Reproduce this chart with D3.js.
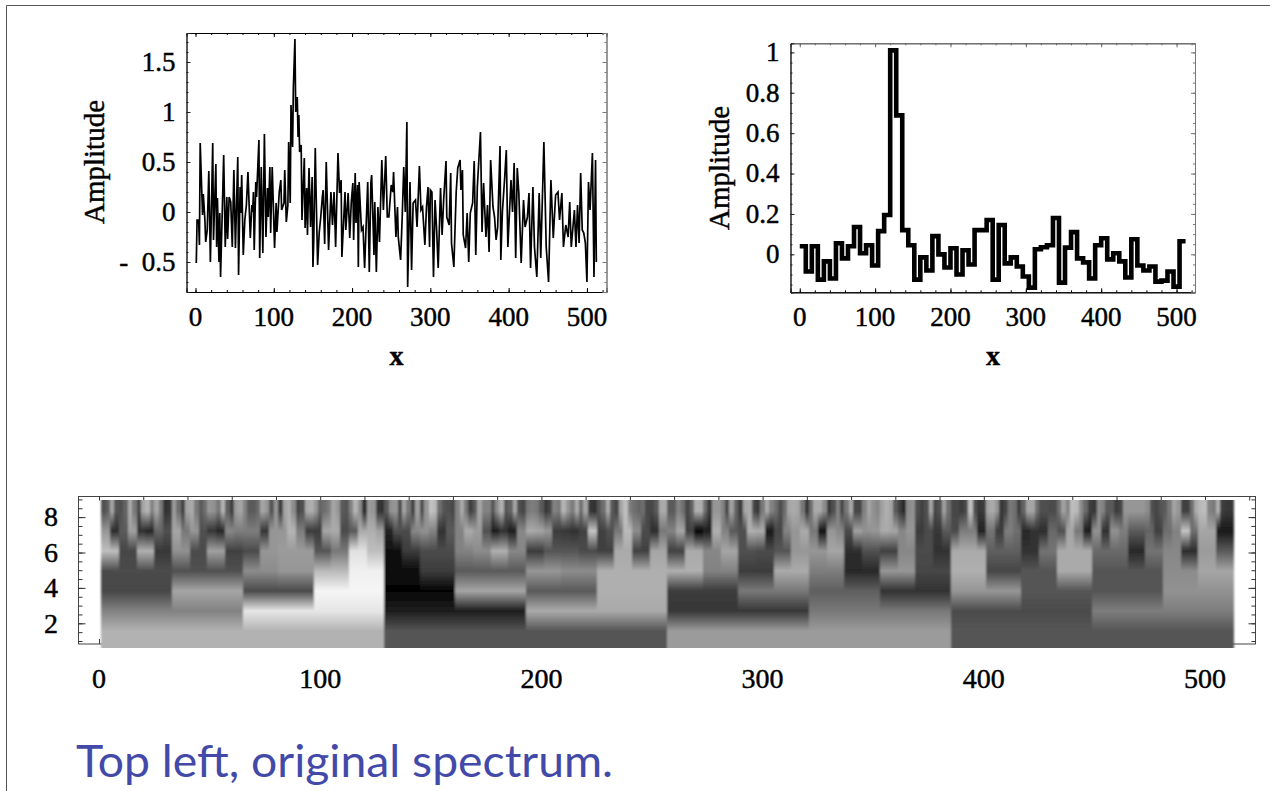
<!DOCTYPE html>
<html>
<head>
<meta charset="utf-8">
<script src="https://cdn.jsdelivr.net/npm/d3@7"></script>
<style>
  html, body { margin: 0; padding: 0; background: #fff; overflow: hidden; }
  svg { display: block; }
  text { font-family: 'Liberation Serif', serif; fill: #000; stroke: #000; stroke-width: 0.45px; }
</style>
</head>
<body>
<svg width="1270" height="791">
  <defs>
    <filter id="soft" x="-1%" y="-1%" width="102%" height="102%">
      <feGaussianBlur stdDeviation="1.2 0.4"></feGaussianBlur>
    </filter>
  </defs>
</svg>
<script>
// noisy spectrum, top left (sample number, amplitude)
var spectrumX = [1,2,4,5,6,9,10,12,13,15,17,19,22,23,26,27,28,30,31,32,34,36,38,40,41,43,45,47,49,51,54,55,57,58,59,61,63,65,67,70,72,73,74,75,77,78,81,82,84,86,88,90,92,93,95,96,98,101,103,104,107,109,110,113,114,116,118,119,121,122,124,125,127,128,130,131,132,133,135,136,139,140,142,143,145,147,149,150,151,153,154,156,158,160,162,163,165,167,170,173,175,177,179,182,184,186,187,191,192,195,197,199,201,202,204,205,207,208,209,212,214,216,220,222,224,225,228,229,231,233,235,238,240,243,245,247,250,252,253,256,258,259,262,264,266,268,270,271,274,276,278,281,283,286,288,290,293,295,297,299,300,302,304,306,308,310,313,315,317,320,321,324,326,327,330,333,335,338,339,341,342,345,347,349,351,354,356,358,360,364,366,368,371,373,375,377,380,382,384,386,389,390,392,395,397,399,403,405,407,409,411,413,416,419,421,424,426,428,431,433,436,439,441,444,445,448,451,454,457,460,463,465,468,470,473,476,478,480,484,486,488,490,492,494,496,498,500,502,504,507,509,511,512];
var spectrumY = [-.51,-.08,-.08,-.33,.69,-.03,.18,-.08,-.3,-.18,.41,-.5,.69,-.28,.48,-.35,.14,-.5,-.01,-.65,-.05,.57,-.35,.15,-.27,.15,.1,-.35,.42,-.36,.55,-.63,.25,-.01,.37,-.43,-.08,.07,.4,-.26,.07,0,.2,-.38,.3,.15,.72,-.46,.45,-.41,.78,-.25,.24,-.05,.45,-.21,.45,-.36,.09,-.2,.2,.32,.02,.09,.42,-.1,.07,.7,.09,1.07,.65,1.24,1.73,1,1.15,.75,.97,.6,.67,-.08,.54,-.16,.24,-.23,.44,-.15,.35,-.55,-.3,.64,.21,-.53,-.21,-.05,.15,.22,-.32,.5,-.38,.2,-.13,.2,-.35,.59,.19,.32,-.45,.2,-.18,.19,-.26,.1,.29,-.28,.39,-.11,.27,-.55,.3,-.18,-.15,-.56,.3,-.6,.29,.37,-.43,.1,-.6,.05,-.3,.52,.02,.56,-.05,-.05,.27,.2,.4,-.25,.05,-.25,-.48,-.06,.45,0,.9,-.75,.3,-.58,.09,.12,-.15,.46,.02,.05,-.33,.04,.25,-.35,.22,.2,-.65,.12,-.18,-.56,.24,-.23,.12,.51,-.05,-.13,.39,-.31,-.55,.2,.44,.52,.22,.42,-.23,-.36,-.01,-.5,-.01,.09,.51,-.43,.25,.8,-.2,.29,-.25,.07,-.4,.52,.05,-.05,-.28,-.15,.66,-.48,0,.35,.62,-.35,.32,0,.49,-.46,.44,.19,-.51,.12,-.15,-.05,.19,-.56,.25,-.35,-.65,.19,-.46,.4,.7,-.35,-.7,.32,-.26,.17,.2,-.08,.19,-.35,-.13,-.25,.1,-.35,.02,-.35,.07,-.31,.39,-.18,-.21,-.31,-.7,.3,.02,.59,-.65,.52,-.5];

// denoised spectrum, top right: 64 steps of 8 samples
var denoised = [.04,-.085,.04,-.125,-.035,-.12,.055,-.02,.04,.135,.005,.045,-.055,.115,.195,1.01,.688,.12,.045,-.125,-.015,-.08,.09,0,-.065,.03,-.1,.02,-.05,.12,.12,.17,-.125,.145,-.045,-.015,-.06,-.11,-.165,.025,.035,.045,.18,-.14,.033,.11,-.02,-.04,-.12,.045,.08,-.025,.005,-.035,-.115,.075,-.055,-.08,-.06,-.135,-.13,-.085,-.16,.065];

// wavelet scalogram, grey level of every cell, coarse row to fine row
var row4 = [178,85,155,85];
var row8 = [130,230,30,170,55,120,75,125];
var row16 = [70,165,75,245,5,165,90,175,60,120,95,50,150,85,85,145];
var row32 = [75,75,80,80,140,150,185,240,10,60,90,90,150,140,175,175,175,130,60,170,125,40,150,70,175,70,85,170,85,85,140,165];
var row64 = [190,70,175,55,145,75,160,65,75,150,155,155,85,120,225,190,15,60,75,75,130,140,175,135,60,85,85,75,65,170,65,165,65,170,135,165,80,75,85,150,150,165,45,80,65,135,75,50,170,170,95,95,50,115,170,170,105,105,40,115,135,45,155,90];
var row128 = [150,45,90,160,50,40,100,80,165,120,150,80,55,40,135,125,125,125,55,150,150,180,125,60,60,165,170,75,90,170,175,160,
  35,80,75,135,145,130,50,90,130,170,155,80,30,50,30,135,170,165,150,60,55,50,65,195,65,80,120,185,140,75,45,120,
  130,165,65,5,30,175,130,90,80,175,170,25,70,130,150,170,120,20,150,135,75,160,145,150,170,165,135,150,60,75,55,90,
  75,125,125,35,115,60,125,110,40,50,45,105,80,165,120,30,145,50,145,125,90,90,100,65,110,130,195,110,165,165,25,25];
var row256 = [80,95,165,85,80,100,170,120,70,165,180,130,165,120,50,55,155,110,65,165,170,120,90,110,150,145,120,180,95,60,155,165,130,90,90,105,165,150,85,150,65,165,175,140,70,80,170,175,150,100,110,125,165,150,90,85,130,180,140,45,155,150,55,50,
  90,145,150,75,165,120,65,160,75,150,195,185,110,85,80,70,130,170,120,65,90,165,130,130,85,140,175,85,100,165,80,70,120,125,120,90,55,70,130,120,180,150,125,170,110,165,55,50,85,110,170,90,70,165,190,125,110,100,110,70,70,90,170,170,
  90,90,130,110,70,100,175,175,110,60,150,150,130,70,160,100,60,165,170,70,55,120,170,130,110,80,110,165,170,165,120,50,110,170,170,140,55,80,130,70,120,170,70,70,130,165,145,135,160,175,165,90,60,40,140,145,80,65,80,165,70,80,160,110,
  70,70,60,75,190,80,55,60,165,170,150,55,70,120,110,60,100,165,165,110,80,80,75,75,110,160,130,190,185,140,105,60,55,140,130,90,90,60,70,150,150,150,150,150,140,80,70,85,90,120,165,150,65,65,110,170,185,190,130,120,175,60,55,55];
var rows = [row4, row8, row16, row32, row64, row128, row256];
var rowLevels = [1.62, 2.75, 3.88, 5.01, 6.14, 7.27, 8.4];

var topXTicks = [0,100,200,300,400,500];
var leftYTicks = [-0.5,0,0.5,1,1.5];
var rightYTicks = [0,0.2,0.4,0.6,0.8,1];
var heatYTicks = [2,4,6,8];

var svg = d3.select('svg');

function yLabel(d) {
  return d < 0 ? '-\u00a0\u00a0' + (-d) : String(d);
}

// slide border
svg.append('path')
  .attr('d', 'M6.5,791V5.5H1270')
  .attr('fill', 'none')
  .attr('stroke', '#555')
  .attr('stroke-width', 1);

// framed plot with inward ticks on all four sides
function frame(g, x, y, opts) {
  var x0 = x.range()[0], x1 = x.range()[1],
      y0 = y.range()[0], y1 = y.range()[1];

  [
    [d3.axisBottom(x), y0, opts.xMinor, 2, '#000'],
    [d3.axisBottom(x), y0, opts.xMajor, 4, '#000'],
    [d3.axisTop(x), y1, opts.xMinor, 2, opts.topColor],
    [d3.axisTop(x), y1, opts.xMajor, 4, opts.topColor]
  ].forEach(function(a) {
    g.append('g')
      .attr('transform', 'translate(0,' + a[1] + ')')
      .call(a[0].tickValues(a[2]).tickSize(-a[3]).tickFormat(''))
      .call(function(s) {
        s.selectAll('path').attr('stroke', a[4]);
        s.selectAll('line').attr('stroke', a[4]);
      });
  });
  [
    [d3.axisLeft(y), x0, opts.yMinor, 2, '#222'],
    [d3.axisLeft(y), x0, opts.yMajor, 4, '#222'],
    [d3.axisRight(y), x1, opts.yMinor, 2, '#777'],
    [d3.axisRight(y), x1, opts.yMajor, 4, '#777']
  ].forEach(function(a) {
    g.append('g')
      .attr('transform', 'translate(' + a[1] + ',0)')
      .call(a[0].tickValues(a[2]).tickSize(-a[3]).tickFormat(''))
      .call(function(s) {
        s.selectAll('path').attr('stroke', a[4]);
        s.selectAll('line').attr('stroke', a[4]);
      });
  });

  g.selectAll('.tick line').attr('stroke-width', 1);
  g.selectAll('.domain').attr('stroke-width', 1);

  g.selectAll('.xlab')
    .data(opts.xMajor)
    .enter().append('text')
    .attr('x', function(d) { return x(d); })
    .attr('y', 326)
    .attr('text-anchor', 'middle')
    .attr('font-size', 27)
    .text(function(d) { return d; });

  g.selectAll('.ylab')
    .data(opts.yMajor)
    .enter().append('text')
    .attr('x', x0 - 11)
    .attr('y', function(d) { return y(d); })
    .attr('dy', '0.33em')
    .attr('text-anchor', 'end')
    .attr('font-size', 27)
    .text(yLabel);

  g.append('text')
    .attr('x', opts.xTitleX)
    .attr('y', 365)
    .attr('text-anchor', 'middle')
    .attr('font-size', 28)
    .attr('font-weight', 'bold')
    .text('x');

  g.append('text')
    .attr('transform', 'translate(' + opts.yTitleX + ',' + opts.yTitleY + ') rotate(-90)')
    .attr('text-anchor', 'middle')
    .attr('font-size', 29)
    .text('Amplitude');
}

// top left
var xLeft = d3.scaleLinear().domain([-11.5, 525]).range([186.5, 606.5]);
var yLeft = d3.scaleLinear().domain([-0.8, 1.79]).range([292, 33]);
var leftPlot = svg.append('g');

leftPlot.append('path')
  .datum(d3.range(spectrumX.length))
  .attr('fill', 'none')
  .attr('stroke', '#000')
  .attr('stroke-width', 1.7)
  .attr('d', d3.line()
    .x(function(i) { return xLeft(spectrumX[i]); })
    .y(function(i) { return yLeft(spectrumY[i]); }));

frame(leftPlot, xLeft, yLeft, {
  xMajor: topXTicks,
  xMinor: d3.range(0, 521, 20),
  yMajor: leftYTicks,
  yMinor: d3.range(-7, 18).map(function(d) { return d / 10; }),
  topColor: '#000',
  xTitleX: 396.5,
  yTitleX: 104,
  yTitleY: 162
});

// top right
var xRight = d3.scaleLinear().domain([-12.3, 524.5]).range([790.5, 1195]);
var yRight = d3.scaleLinear().domain([-0.188, 1.045]).range([292.3, 43.3]);
var rightPlot = svg.append('g');

rightPlot.append('path')
  .datum(denoised.concat([denoised[denoised.length - 1]]))
  .attr('fill', 'none')
  .attr('stroke', '#000')
  .attr('stroke-width', 4.6)
  .attr('d', d3.line()
    .curve(d3.curveStepAfter)
    .x(function(d, i) { return xRight(i * 8); })
    .y(function(d) { return yRight(d); }));

frame(rightPlot, xRight, yRight, {
  xMajor: topXTicks,
  xMinor: d3.range(0, 521, 20),
  yMajor: rightYTicks,
  yMinor: d3.range(-3, 21).map(function(d) { return d / 20; }),
  topColor: '#666',
  xTitleX: 993,
  yTitleX: 729,
  yTitleY: 168
});

// scalogram
var xHeat = d3.scaleLinear().domain([0, 500]).range([99, 1205]);
var yHeat = d3.scaleLinear().domain([2, 8]).range([623.3, 517.1]);
var grey = d3.scaleLinear().domain([0, 255]).range(['#000', '#fff']);
var heat = svg.append('g');

heat.append('rect')
  .attr('x', 78.5)
  .attr('y', 496.5)
  .attr('width', 1177)
  .attr('height', 147.5)
  .attr('fill', 'none')
  .attr('stroke', '#444');

heat.append('g')
  .attr('transform', 'translate(0,496.5)')
  .call(d3.axisBottom(xHeat).tickValues(d3.range(0, 521, 20)).tickSize(4).tickFormat(''))
  .call(function(s) { s.select('.domain').remove(); s.selectAll('line').attr('stroke', '#333'); });

heat.append('g')
  .attr('transform', 'translate(0,644)')
  .call(d3.axisTop(xHeat).tickValues([0]).tickSize(5).tickFormat(''))
  .call(function(s) { s.select('.domain').remove(); s.selectAll('line').attr('stroke', '#333'); });

[[78.5, 7, heatYTicks], [78.5, 4, d3.range(1, 9.1, 0.5)]].forEach(function(a) {
  heat.append('g')
    .attr('transform', 'translate(' + a[0] + ',0)')
    .call(d3.axisRight(yHeat).tickValues(a[2]).tickSize(a[1]).tickFormat(''))
    .call(function(s) { s.select('.domain').remove(); s.selectAll('line').attr('stroke', '#333'); });
});
[[1255.5, 7, heatYTicks], [1255.5, 4, d3.range(1, 9.1, 0.5)]].forEach(function(a) {
  heat.append('g')
    .attr('transform', 'translate(' + a[0] + ',0)')
    .call(d3.axisLeft(yHeat).tickValues(a[2]).tickSize(a[1]).tickFormat(''))
    .call(function(s) { s.select('.domain').remove(); s.selectAll('line').attr('stroke', '#333'); });
});

// one thin strip per pixel row, each finer row blended up from its parent cell
var strips = [];
var sampleLo = 1, sampleHi = 513;
function pushStrip(yTop, yBot, row, parent, t) {
  row.forEach(function(v, i) {
    var p = parent ? parent[Math.floor(i * parent.length / row.length)] : v;
    strips.push({
      a: sampleLo + (sampleHi - sampleLo) * i / row.length,
      b: sampleLo + (sampleHi - sampleLo) * (i + 1) / row.length,
      yTop: yTop,
      yBot: yBot,
      v: p + (v - p) * t
    });
  });
}
pushStrip(yHeat(rowLevels[0]), yHeat(0.62), rows[0], null, 1);
for (var r = 1; r < rows.length; r++) {
  var yFrom = yHeat(rowLevels[r - 1]), yTo = yHeat(rowLevels[r]);
  var n = Math.round(yFrom - yTo);
  for (var k = 0; k < n; k++) {
    pushStrip(yFrom - (k + 1) * (yFrom - yTo) / n, yFrom - k * (yFrom - yTo) / n, rows[r], rows[r - 1], (k + 0.5) / n);
  }
}
pushStrip(yHeat(8.97), yHeat(rowLevels[rowLevels.length - 1]), rows[rows.length - 1], null, 1);

heat.append('g')
  .attr('filter', 'url(#soft)')
  .attr('shape-rendering', 'crispEdges')
  .selectAll('rect')
  .data(strips)
  .enter().append('rect')
  .attr('x', function(d) { return xHeat(d.a); })
  .attr('width', function(d) { return xHeat(d.b) - xHeat(d.a); })
  .attr('y', function(d) { return d.yTop; })
  .attr('height', function(d) { return d.yBot - d.yTop + 0.5; })
  .attr('fill', function(d) { return grey(d.v); });

heat.selectAll('.hx')
  .data(topXTicks)
  .enter().append('text')
  .attr('x', function(d) { return xHeat(d); })
  .attr('y', 688)
  .attr('text-anchor', 'middle')
  .attr('font-size', 28)
  .text(function(d) { return d; });

heat.selectAll('.hy')
  .data(heatYTicks)
  .enter().append('text')
  .attr('x', 58)
  .attr('y', function(d) { return yHeat(d); })
  .attr('dy', '0.33em')
  .attr('text-anchor', 'end')
  .attr('font-size', 28)
  .text(function(d) { return d; });

// caption
svg.append('text')
  .attr('x', 76)
  .attr('y', 777)
  .attr('textLength', 537)
  .attr('lengthAdjust', 'spacingAndGlyphs')
  .style('font-family', "'Comic Sans MS', Lato, 'Open Sans', sans-serif")
  .style('fill', '#4349a8')
  .style('stroke', 'none')
  .attr('font-size', 44)
  .text('Top left, original spectrum.');
</script>
</body>
</html>
